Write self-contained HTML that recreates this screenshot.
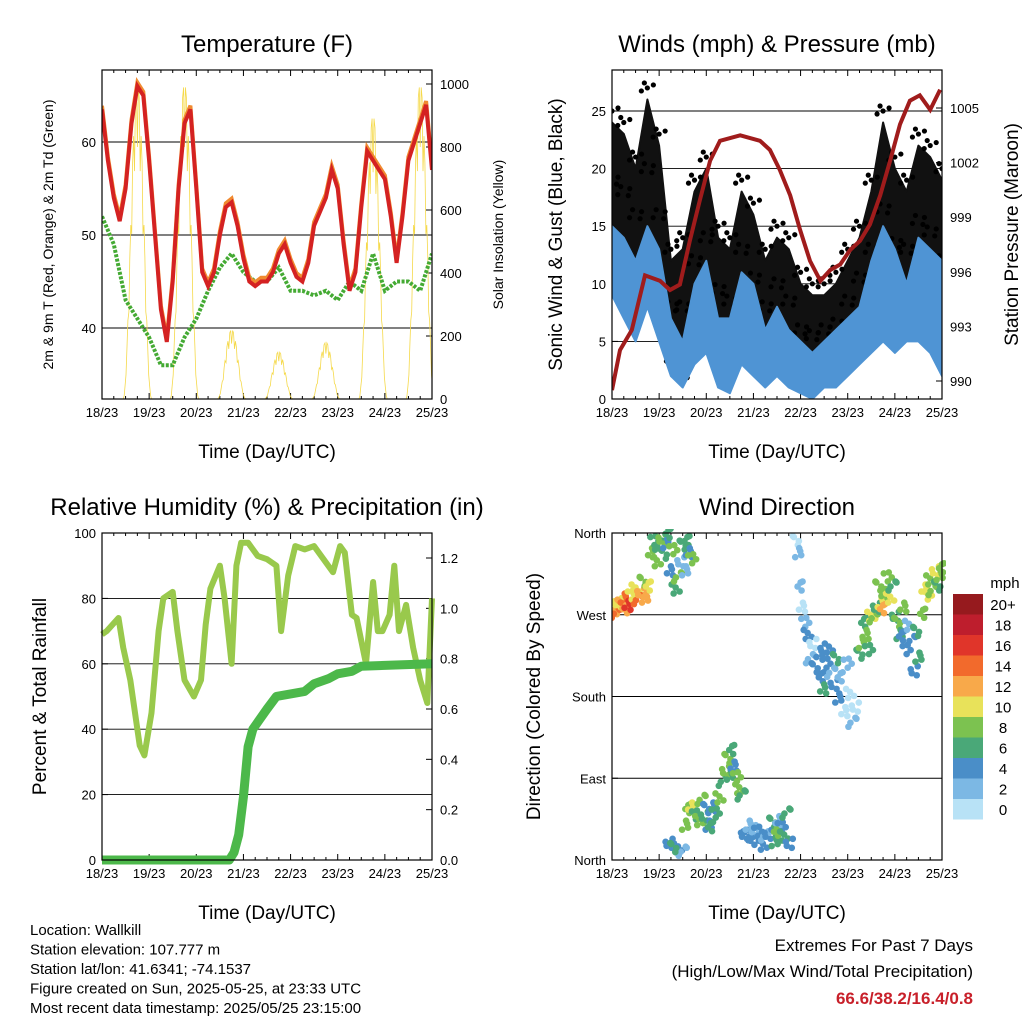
<!DOCTYPE html>
<html><head><meta charset="utf-8"><style>
body{margin:0;background:#fff}
svg{display:block;font-family:"Liberation Sans",sans-serif}
</style></head><body>
<svg id="c" width="1024" height="1024" viewBox="0 0 1024 1024"></svg>
<script>
// ---------- DATA ----------
const dayLabels=["18/23","19/23","20/23","21/23","22/23","23/23","24/23","25/23"];
const tempTimes=[0,0.125,0.25,0.375,0.5,0.625,0.75,0.875,1,1.125,1.25,1.375,1.5,1.625,1.75,1.875,2,2.125,2.25,2.375,2.5,2.625,2.75,2.875,3,3.125,3.25,3.375,3.5,3.625,3.75,3.875,4,4.125,4.25,4.375,4.5,4.625,4.75,4.875,5,5.125,5.25,5.375,5.5,5.625,5.75,5.875,6,6.125,6.25,6.375,6.5,6.625,6.75,6.875,7];
const tempVals=[63.5,58,54,51.5,55,62,66,65,58,50,42,38.5,45,55,62,63.5,55,46,44.5,46,50,53,53.5,51,47.5,45,44.5,45,45,46,48,49,47,45.5,45,47,51,52.5,54,57,55,49,44,46,53,59,58,57,56,52,47,52,58,60,62,64,57];
const dewTimes=[0,0.25,0.5,0.75,1,1.25,1.5,1.75,2,2.25,2.5,2.75,3,3.25,3.5,3.75,4,4.25,4.5,4.75,5,5.25,5.5,5.75,6,6.25,6.5,6.75,7];
const dewVals=[52,49,43,41,39,36,36,39,41,44,46.5,48,46,45,45,46.5,44,44,43.5,44,43,45,44,48,44,45,45,44,48];
const solarPeaks=[1000,1000,220,150,180,900,1000];
const presTimes=[0,0.17,0.42,0.7,1.02,1.23,1.44,1.65,1.86,2.08,2.29,2.72,3.14,3.35,3.56,3.78,3.99,4.2,4.42,4.63,4.84,5.05,5.26,5.47,5.69,5.9,6.11,6.32,6.53,6.75,6.96];
const presVals=[989.5,991.7,992.8,995.8,995.5,995,995.3,997.7,999.9,1002.1,1003.2,1003.5,1003.2,1002.7,1001.6,1000.2,998.3,996.6,995.5,996.1,996.4,997.2,997.7,998.6,1000.2,1002.1,1004.1,1005.4,1005.7,1004.9,1006];
const windTimes=[0,0.25,0.5,0.75,1,1.25,1.5,1.75,2,2.25,2.5,2.75,3,3.25,3.5,3.75,4,4.25,4.5,4.75,5,5.25,5.5,5.75,6,6.25,6.5,6.75,7];
const gustHi=[24,23,20,26,22,12,13,18,20,14,13,18,16,12,14,13,10,9,9,10,12,14,18,24,20,18,22,21,19];
const gustLo=[14,13,12,14,10,4,3,6,8,5,4,8,5,4,6,4,2,2,3,3,5,7,8,9,7,8,9,8,5];
const windHi=[15,14,12,15,13,7,5,10,12,7,7,11,10,6,8,6,5,4,5,6,7,8,12,15,13,10,14,13,12];
const windLo=[9,7,5,8,5,2,1,3,4,1,0.5,3,2,1,2,1,0.5,0,1,1,2,3,4,5,4,5,5,4,2];
const rhTimes=[0,0.1,0.35,0.45,0.6,0.8,0.9,1.05,1.2,1.3,1.5,1.6,1.75,1.95,2.1,2.2,2.3,2.5,2.6,2.75,2.85,2.95,3.1,3.3,3.5,3.7,3.8,3.95,4.1,4.3,4.5,4.7,4.9,5.05,5.15,5.3,5.4,5.6,5.75,5.85,5.95,6.1,6.2,6.3,6.45,6.6,6.75,6.9,7];
const rhVals=[69,70,74,65,55,35,32,45,70,80,82,70,55,50,55,72,83,90,80,60,90,97,97,93,92,90,70,87,96,95,96,92,88,96,94,75,74,60,85,70,70,75,90,70,78,65,55,48,80];
const precTimes=[0,2.7,2.8,2.9,3.0,3.1,3.2,3.35,3.5,3.7,4.0,4.3,4.5,4.8,5.0,5.3,5.5,7];
const precVals=[0,0,0.03,0.1,0.25,0.45,0.52,0.56,0.6,0.65,0.66,0.67,0.7,0.72,0.74,0.75,0.77,0.78];
const dirTimes=[0.02,0.08,0.12,0.18,0.25,0.3,0.35,0.42,0.5,0.55,0.6,0.65,0.7,0.78,0.85,0.9,0.95,1.0,1.05,1.1,1.15,1.2,1.25,1.3,1.35,1.4,1.45,1.5,1.55,1.6,1.65,1.7,1.4,1.5,1.2,1.3,1.55,1.62,1.7,1.78,1.85,1.9,1.95,2.0,2.05,2.1,2.15,2.2,2.28,2.35,2.4,2.45,2.5,2.55,2.6,2.65,2.7,2.75,2.8,2.85,2.9,3.0,3.05,3.1,3.2,3.25,3.3,3.4,3.45,3.5,3.55,3.6,3.65,3.7,3.75,3.9,3.95,4.0,4.05,4.1,4.15,4.2,4.25,4.3,4.4,4.45,4.5,4.55,4.6,4.65,4.7,4.75,4.8,4.85,4.95,5.0,5.05,5.1,5.15,5.25,5.3,5.35,5.4,5.45,5.5,5.55,5.6,5.65,5.7,5.75,5.8,5.85,5.9,5.95,6.0,6.05,6.1,6.15,6.2,6.25,6.3,6.35,6.4,6.45,6.5,6.6,6.65,6.7,6.75,6.8,6.85,6.9,6.95,7.0];
const dirVals=[275,270,285,280,290,275,282,290,300,285,296,305,290,300,340,350,330,345,355,335,350,358,320,340,300,310,330,345,320,350,340,330,15,8,20,12,40,55,60,48,45,65,50,55,40,35,60,50,70,85,100,110,95,120,105,90,80,70,30,25,40,20,35,30,18,25,30,40,22,30,45,35,28,50,20,350,340,300,280,260,250,220,240,210,230,200,190,215,235,205,195,220,180,200,165,215,185,150,170,225,240,260,250,230,270,265,280,300,285,275,295,310,290,300,270,260,250,245,280,230,260,240,210,250,225,270,300,290,310,295,320,300,315,320];
const dirSpeeds=[12,14,11,13,15,12,16,11,10,14,12,9,13,10,8,7,9,6,8,7,5,6,4,8,7,9,3,6,2,7,5,8,5,3,4,6,9,8,10,7,8,9,6,5,4,7,5,6,8,7,9,8,7,6,5,8,9,7,5,4,3,4,2,5,4,3,5,6,7,8,3,4,7,6,5,1,2,3,1,2,4,3,0,5,4,5,6,4,5,3,4,6,5,2,1,3,0,2,1,7,8,6,9,7,10,8,6,9,11,12,8,9,10,7,6,8,7,5,8,4,3,4,5,6,7,9,10,11,8,9,10,7,8,9];
const speedColors=["#b8e2f6","#7cb8e4","#4a8ec8","#4aa878","#7cc250","#e8e25a","#f8a94a","#f26a2c","#e0352a","#be1e2d","#961a1e"];
const speedLabels=["0","2","4","6","8","10","12","14","16","18","20+"];

// ---------- HELPERS ----------
const svg=document.getElementById('c');
const NS="http://www.w3.org/2000/svg";
function mk(tag,attrs,parent){const e=document.createElementNS(NS,tag);for(const k in attrs)e.setAttribute(k,attrs[k]);(parent||svg).appendChild(e);return e;}
function txt(s,x,y,size,anchor,parent,extra){const t=mk('text',Object.assign({x:x,y:y,'font-size':size,'text-anchor':anchor||'middle',fill:'#000'},extra||{}),parent);t.textContent=s;return t;}
function lin(a0,a1,b0,b1){return v=>b0+(v-a0)*(b1-b0)/(a1-a0);}
function pts(xs,ys,fx,fy){return xs.map((t,i)=>fx(t).toFixed(1)+','+fy(ys[i]).toFixed(1)).join(' ');}

function frame(name,x0,x1,y0,y1,title,xTitle,yTitleL,ylSize,yTitleR,yrSize,leftTicks,leftFmt,fyL,rightTicks,rightFmt,fyR,gridTicks,labelsY){
  const g=mk('g',{},svg);
  
  
  const fx=lin(0,7,x0,x1);
  gridTicks.forEach(v=>{const gl=mk('line',{x1:x0,x2:x1,y1:fyL(v),y2:fyL(v),stroke:'#000','stroke-width':0.9},g);
    });
  for(let d=0;d<=7;d++){const x=fx(d);
    mk('line',{x1:x,x2:x,y1:y1,y2:y1-6,stroke:'#000'},g);mk('line',{x1:x,x2:x,y1:y0,y2:y0+6,stroke:'#000'},g);
    if(d<7)for(let k=1;k<4;k++){const xm=fx(d+k/4);mk('line',{x1:xm,x2:xm,y1:y1,y2:y1-3,stroke:'#000'},g);mk('line',{x1:xm,x2:xm,y1:y0,y2:y0+3,stroke:'#000'},g);}
    const tl=txt(dayLabels[d],x,y1+18,13,'middle',g);}
  leftTicks.forEach(v=>{const y=fyL(v);mk('line',{x1:x0,x2:x0+6,y1:y,y2:y,stroke:'#000'},g);
    const tl=txt(leftFmt(v),x0-6,y+5,13,'end',g);});
  if(rightTicks)rightTicks.forEach(v=>{const y=fyR(v);mk('line',{x1:x1,x2:x1-6,y1:y,y2:y,stroke:'#000'},g);
    const tl=txt(rightFmt(v),x1+8,y+5,13,'start',g);});
  const t=txt(title,(x0+x1)/2,y0-18,24,'middle',g);
  const xt=txt(xTitle,(x0+x1)/2,y1+59,19,'middle',g);
  const ym=(y0+y1)/2;
  const yl=txt(yTitleL,labelsY[0],ym,ylSize,'middle',g,{transform:`rotate(-90 ${labelsY[0]} ${ym})`});
  if(yTitleR){const yr=txt(yTitleR,labelsY[1],ym,yrSize,'middle',g,{transform:`rotate(-90 ${labelsY[1]} ${ym})`});}
  return {g,fx};
}
function border(g,x0,x1,y0,y1){mk('rect',{x:x0,y:y0,width:x1-x0,height:y1-y0,fill:'none',stroke:'#000','stroke-width':1.2},g);}
// fixed jitter pattern (drawing style only)
const jx=[0,-4,4,-2,3,-3,2,1],jy=[0,3,-3,-5,4,-1,6,-6];

// ---------- PANEL 1: TEMPERATURE ----------
(function(){
  const x0=102,x1=432,y0=70,y1=399;
  const fyT=lin(40,60,328,142), fyS=lin(0,1000,399,84);
  const P=frame('temperature-panel',x0,x1,y0,y1,'Temperature (F)','Time (Day/UTC)','2m & 9m T (Red, Orange) & 2m Td (Green)',14,'Solar Insolation (Yellow)',14,[40,50,60],v=>v,fyT,[0,200,400,600,800,1000],v=>v,fyS,[40,50,60],[53,503]);
  const cp=mk('clipPath',{id:'cp1'},svg);mk('rect',{x:x0,y:y0,width:x1-x0,height:y1-y0},cp);
  const g=mk('g',{'clip-path':'url(#cp1)'},P.g);
  solarPeaks.forEach((pk,d)=>{
    let s=[];for(let k=0;k<=30;k++){const t=d+0.45+k*0.6/30;const f=Math.sin(Math.PI*k/30);const v=pk*f*f*(0.75+0.25*((k%3)?1:0.2));s.push(P.fx(t).toFixed(1)+','+fyS(v).toFixed(1));}
    const pl=mk('polyline',{points:s.join(' '),fill:'none',stroke:'#f5d94a','stroke-width':0.8},g);
    
  });
  const dw=mk('polyline',{points:pts(dewTimes,dewVals,P.fx,fyT),fill:'none',stroke:'#44aa33','stroke-width':4,'stroke-dasharray':'3 1.5'},g);
  
  const t9=mk('polyline',{points:pts(tempTimes,tempVals.map(v=>v+0.4),P.fx,fyT),fill:'none',stroke:'#f08a30','stroke-width':4},g);
  
  const t2=mk('polyline',{points:pts(tempTimes,tempVals,P.fx,fyT),fill:'none',stroke:'#d42222','stroke-width':4},g);
  
  border(P.g,x0,x1,y0,y1);
})();

// ---------- PANEL 2: WINDS ----------
(function(){
  const x0=612,x1=942,y0=70,y1=399;
  const fyW=lin(0,25,399,111), fyP=lin(990,1005,381,108);
  const P=frame('winds-panel',x0,x1,y0,y1,'Winds (mph) & Pressure (mb)','Time (Day/UTC)','Sonic Wind & Gust (Blue, Black)',19,'Station Pressure (Maroon)',19,[0,5,10,15,20,25],v=>v,fyW,[990,993,996,999,1002,1005],v=>v,fyP,[5,10,15,20,25],[562,1018]);
  const cp=mk('clipPath',{id:'cp2'},svg);mk('rect',{x:x0,y:y0,width:x1-x0,height:y1-y0},cp);
  const g=mk('g',{'clip-path':'url(#cp2)'},P.g);
  const band=(hi,lo,col,name)=>{const p=pts(windTimes,hi,P.fx,fyW)+' '+pts(windTimes.slice().reverse(),lo.slice().reverse(),P.fx,fyW);
    const e=mk('polygon',{points:p,fill:col,stroke:col,'stroke-width':2,'stroke-linejoin':'round'},g);};
  band(gustHi,gustLo,'#111','gust-band');
  windTimes.forEach((t,i)=>{[gustHi[i]+1,(gustHi[i]+gustLo[i])/2,gustLo[i]-0.8].forEach((v,k)=>{
    for(let j=0;j<4;j++){
    const c=mk('circle',{cx:P.fx(t)+jx[(j+k)%8]*1.5,cy:fyW(v)+jy[(j+k)%8],r:2.6,fill:'#000'},g);}});});
  band(windHi,windLo,'#4f94d4','wind-band');
  const pr=mk('polyline',{points:pts(presTimes,presVals,P.fx,fyP),fill:'none',stroke:'#a01c1c','stroke-width':4},g);
  
  border(P.g,x0,x1,y0,y1);
})();

// ---------- PANEL 3: RH & PRECIP ----------
(function(){
  const x0=102,x1=432,y0=533,y1=860;
  const fyR=lin(0,100,860,533), fyP=lin(0,1.2,860,558);
  const P=frame('humidity-precip-panel',x0,x1,y0,y1,'Relative Humidity (%) & Precipitation (in)','Time (Day/UTC)','Percent & Total Rainfall',19,null,0,[0,20,40,60,80,100],v=>v,fyR,[0,0.2,0.4,0.6,0.8,1.0,1.2],v=>v.toFixed(1),fyP,[20,40,60,80],[46,0]);
  const cp=mk('clipPath',{id:'cp3'},svg);mk('rect',{x:x0-6,y:y0,width:x1-x0+12,height:y1-y0+6},cp);
  const g=mk('g',{'clip-path':'url(#cp3)'},P.g);
  const rh=mk('polyline',{points:pts(rhTimes,rhVals,P.fx,fyR),fill:'none',stroke:'#99c94c','stroke-width':6,'stroke-linejoin':'round'},g);
  
  const pc=mk('polyline',{points:pts(precTimes,precVals,P.fx,fyP),fill:'none',stroke:'#4cb84a','stroke-width':9,'stroke-linejoin':'round'},g);
  
  border(P.g,x0,x1,y0,y1);
})();

// ---------- PANEL 4: WIND DIRECTION ----------
(function(){
  const x0=612,x1=942,y0=533,y1=860;
  const fyD=lin(0,360,860,533);
  const dirTickVals=[0,90,180,270,360], dirTickNames=["North","East","South","West","North"];
  const P=frame('wind-direction-panel',x0,x1,y0,y1,'Wind Direction','Time (Day/UTC)','Direction (Colored By Speed)',19,null,0,dirTickVals,v=>dirTickNames[dirTickVals.indexOf(v)],fyD,null,null,null,[90,180,270],[540,0]);
  const cp=mk('clipPath',{id:'cp4'},svg);mk('rect',{x:x0,y:y0-4,width:x1-x0+4,height:y1-y0+8},cp);
  const g=mk('g',{'clip-path':'url(#cp4)'},P.g);
  dirTimes.forEach((t,i)=>{
    const ci=Math.min(10,Math.floor(dirSpeeds[i]/2));
    for(let j=0;j<4;j++){
      const c=mk('circle',{cx:P.fx(t)+jx[(i+j)%8],cy:fyD(dirVals[i])+jy[(i+2*j)%8],r:3.3,fill:speedColors[ci]},g);
      
      
    }
  });
  border(P.g,x0,x1,y0,y1);
  const cb=mk('g',{},svg);
  
  
  const ml=txt('mph',1005,588,15,'middle',cb);
  for(let k=0;k<11;k++){const y=594+(10-k)*20.5;
    mk('rect',{x:953,y:y,width:30,height:20.5,fill:speedColors[k]},cb);
    const l=txt(speedLabels[k],1003,y+16,15,'middle',cb);}
})();

// ---------- FOOTER ----------
const info=["Location: Wallkill","Station elevation: 107.777 m","Station lat/lon: 41.6341; -74.1537","Figure created on Sun, 2025-05-25, at 23:33 UTC","Most recent data timestamp: 2025/05/25 23:15:00"];
info.forEach((s,i)=>{const t=txt(s,30,935+i*19.5,15,'start');});
const e1=txt('Extremes For Past 7 Days',973,951,17,'end');
const e2=txt('(High/Low/Max Wind/Total Precipitation)',973,977,17,'end');
const e3=txt('66.6/38.2/16.4/0.8',973,1004,17,'end',null,{fill:'#c8202a','font-weight':'bold'});
</script>
</body></html>
